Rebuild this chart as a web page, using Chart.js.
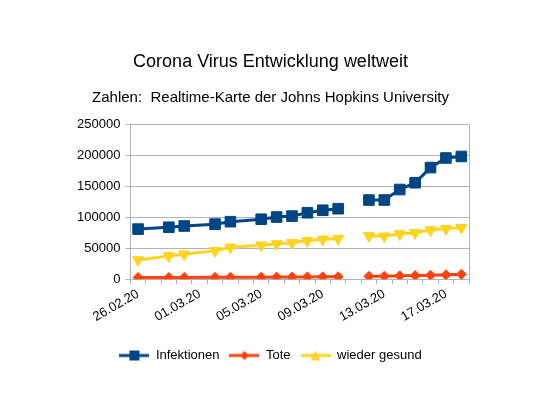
<!DOCTYPE html>
<html lang="de">
<head>
<meta charset="UTF-8" />
<title>Corona Virus Entwicklung weltweit</title>
<script src="https://cdn.jsdelivr.net/npm/chart.js"></script>
<style>
  html, body { margin: 0; padding: 0; background: #fff; }
  #wrap { width: 559px; height: 397px; }
</style>
</head>
<body>
<div id="wrap"><canvas id="chart" width="559" height="397"></canvas></div>
<script>
  // alle Tage auf der x-Achse
  const tage = ['26.02.20', '27.02.20', '28.02.20', '29.02.20', '01.03.20', '02.03.20', '03.03.20', '04.03.20',
                '05.03.20', '06.03.20', '07.03.20', '08.03.20', '09.03.20', '10.03.20', '11.03.20', '12.03.20',
                '13.03.20', '14.03.20', '15.03.20', '16.03.20', '17.03.20', '18.03.20'];

  // Tage mit Werten (11.03. leer -> Lücke in der Linie)
  const messTage = ['26.02.20', '28.02.20', '29.02.20', '02.03.20', '03.03.20', '05.03.20', '06.03.20', '07.03.20',
                    '08.03.20', '09.03.20', '10.03.20', '11.03.20', '12.03.20', '13.03.20', '14.03.20', '15.03.20',
                    '16.03.20', '17.03.20', '18.03.20'];

  const infektionen = [81000, 84000, 86000, 89000, 93000, 97000, 100500, 102000, 107500, 111500, 114000, null,
                       128000, 128000, 145000, 156000, 180500, 196000, 198500];
  const tote = [2800, 2850, 2900, 3050, 3150, 3300, 3400, 3500, 3600, 3800, 4000, null,
                4600, 4900, 5400, 5800, 6500, 7100, 7800];
  const gesund = [31000, 37500, 40500, 46000, 51500, 55000, 57000, 59000, 62000, 64500, 65500, null,
                  70000, 69500, 73000, 75000, 79500, 81500, 83500];

  const blau = '#004586';
  const rot = '#ff420e';
  const gelb = '#ffd320';
  const grau = '#b3b3b3';

  const punkte = (werte) => messTage.map((t, i) => ({ x: t, y: werte[i] }));

  // Legendensymbol: Linie mit Marker in der Mitte
  function legendBild(farbe, form) {
    const c = document.createElement('canvas');
    c.width = 30; c.height = 14;
    const g = c.getContext('2d');
    g.strokeStyle = farbe; g.fillStyle = farbe; g.lineWidth = 3;
    g.beginPath(); g.moveTo(0, 7); g.lineTo(30, 7); g.stroke();
    g.beginPath();
    if (form === 'quadrat') {
      g.rect(10, 2, 10, 10);
    } else if (form === 'raute') {
      g.moveTo(15, 2.5); g.lineTo(19.5, 7); g.lineTo(15, 11.5); g.lineTo(10.5, 7);
    } else {
      g.moveTo(10, 2); g.lineTo(20, 2); g.lineTo(15, 12);
    }
    g.closePath(); g.fill();
    return c;
  }
  const symbole = [legendBild(blau, 'quadrat'), legendBild(rot, 'raute'), legendBild(gelb, 'dreieck')];

  // rechter Rahmen der Zeichenfläche
  const rahmen = {
    id: 'rahmen',
    afterDatasetsDraw(chart) {
      const a = chart.chartArea, ctx = chart.ctx;
      ctx.save();
      ctx.strokeStyle = grau; ctx.lineWidth = 1;
      ctx.beginPath();
      ctx.moveTo(Math.round(a.right) + 0.5, a.top);
      ctx.lineTo(Math.round(a.right) + 0.5, a.bottom);
      ctx.stroke();
      ctx.restore();
    }
  };

  Chart.defaults.font.family = "'Liberation Sans', Arial, sans-serif";
  Chart.defaults.color = '#000';

  new Chart(document.getElementById('chart'), {
    type: 'line',
    data: {
      labels: tage,
      datasets: [
        {
          label: 'Infektionen', data: punkte(infektionen),
          borderColor: blau, backgroundColor: blau, borderWidth: 3,
          pointStyle: 'rect', pointRadius: 7.5, pointBorderWidth: 1, tension: 0
        },
        {
          label: 'Tote', data: punkte(tote),
          borderColor: rot, backgroundColor: rot, borderWidth: 3,
          pointStyle: 'rectRot', pointRadius: 5, pointBorderWidth: 1, tension: 0
        },
        {
          label: 'wieder gesund', data: punkte(gesund),
          borderColor: gelb, backgroundColor: gelb, borderWidth: 3,
          pointStyle: 'triangle', pointRotation: 180, pointRadius: 6.5, pointBorderWidth: 1, tension: 0
        }
      ]
    },
    options: {
      responsive: false,
      animation: false,
      spanGaps: false,
      layout: { padding: { left: 72, right: 90, top: 51, bottom: 25 } },
      plugins: {
        title: {
          display: true,
          text: 'Corona Virus Entwicklung weltweit',
          font: { size: 18, weight: 'normal' },
          padding: { top: 0, bottom: 16 }
        },
        subtitle: {
          display: true,
          text: 'Zahlen:  Realtime-Karte der Johns Hopkins University',
          font: { size: 15, weight: 'normal' },
          padding: { top: 0, bottom: 18 }
        },
        legend: {
          position: 'bottom',
          labels: {
            usePointStyle: true,
            pointStyleWidth: 30,
            boxHeight: 13,
            padding: 10,
            font: { size: 13 },
            generateLabels(chart) {
              const items = Chart.defaults.plugins.legend.labels.generateLabels(chart);
              items.forEach((it, i) => { it.pointStyle = symbole[i]; });
              return items;
            }
          }
        },
        tooltip: { enabled: false }
      },
      scales: {
        x: {
          offset: true,
          grid: { display: true, offset: true, drawOnChartArea: false, color: grau, tickLength: 5 },
          border: { color: grau },
          ticks: {
            autoSkip: false,
            minRotation: 30, maxRotation: 30,
            font: { size: 13 },
            padding: 2,
            callback: (v, i) => (i % 4 === 0 ? tage[i] : '')
          },
          // etwas Abstand zwischen Achsenbeschriftung und Legende
          afterFit: (scale) => { scale.height += 12; }
        },
        y: {
          min: 0, max: 250000,
          grid: { color: grau, tickLength: 5 },
          border: { color: grau },
          ticks: { stepSize: 50000, font: { size: 13 }, padding: 5, callback: (v) => String(v) }
        }
      }
    },
    plugins: [rahmen]
  });
</script>
</body>
</html>
